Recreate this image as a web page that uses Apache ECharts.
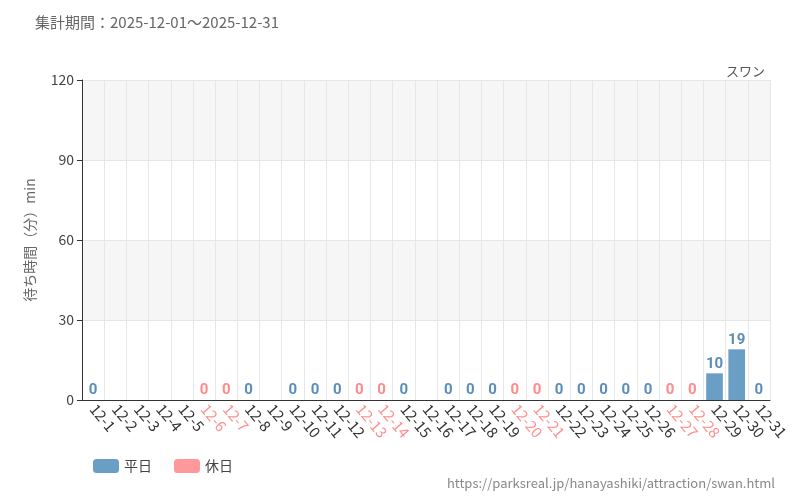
<!DOCTYPE html>
<html><head><meta charset="utf-8">
<script src="https://cdn.jsdelivr.net/npm/echarts@6/dist/echarts.min.js"></script>
<style>body{margin:0}#c{width:800px;height:500px}</style>
</head><body><div id="c"></div>
<script>
var days = ['12-1','12-2','12-3','12-4','12-5','12-6','12-7','12-8','12-9','12-10','12-11','12-12','12-13','12-14','12-15','12-16','12-17','12-18','12-19','12-20','12-21','12-22','12-23','12-24','12-25','12-26','12-27','12-28','12-29','12-30','12-31'];
var holidays = ['12-6','12-7','12-13','12-14','12-20','12-21','12-27','12-28'];
var waits = [0,null,null,null,null,0,0,0,null,0,0,0,0,0,0,null,0,0,0,0,0,0,0,0,0,0,0,0,10,19,0];
var yTicks = [0,30,60,90,120];

var weekday = waits.map(function(v,i){ return holidays.indexOf(days[i]) < 0 ? v : null; });
var holiday = waits.map(function(v,i){ return holidays.indexOf(days[i]) >= 0 ? v : null; });
var font = '"Noto Sans CJK JP","Noto Sans",sans-serif';
function lbl(color){ return {show:true, position:'top', color:color, fontSize:15, fontWeight:'bold', fontFamily:'"Liberation Sans Narrow","Roboto",sans-serif', distance:2}; }

var chart = echarts.init(document.getElementById('c'));
chart.setOption({
  textStyle:{fontFamily:font},
  title:[
    {text:'集計期間：2025-12-01～2025-12-31', left:30, top:10, textStyle:{fontSize:15, fontWeight:'normal', color:'#666'}},
    {text:'スワン', right:30, top:60, textStyle:{fontSize:13, fontWeight:'normal', color:'#555'}},
    {text:'https://parksreal.jp/hanayashiki/attraction/swan.html', right:20, top:472, textStyle:{fontSize:13, fontWeight:'normal', color:'#888'}}
  ],
  legend:{left:88, bottom:22, itemWidth:26, itemHeight:14, itemGap:22, textStyle:{fontSize:14, color:'#444'}, data:['平日','休日']},
  grid:{left:82, right:30, top:80, bottom:100},
  xAxis:{type:'category', data:days, boundaryGap:true,
    axisLine:{lineStyle:{color:'#333'}}, axisTick:{alignWithLabel:true, lineStyle:{color:'#333'}},
    splitLine:{show:true, lineStyle:{color:'#e6e6e6'}},
    axisLabel:{rotate:-50, interval:0, fontSize:15, margin:6,
      color:function(v){ return holidays.indexOf(v) >= 0 ? '#ff8f8f' : '#333'; }}},
  yAxis:{type:'value', min:yTicks[0], max:yTicks[yTicks.length-1], interval:30,
    name:'待ち時間（分）min', nameLocation:'middle', nameGap:45, nameTextStyle:{fontSize:14, color:'#666'},
    axisLine:{show:true, lineStyle:{color:'#333'}}, axisTick:{show:true},
    axisLabel:{fontSize:14, color:'#444'},
    splitLine:{lineStyle:{color:'#e6e6e6'}},
    splitArea:{show:true, areaStyle:{color:['#ffffff','#f6f6f6']}}},
  series:[
    {name:'平日', type:'bar', stack:'a', data:weekday, barWidth:'75%', itemStyle:{color:'#6a9ec5'}, label:lbl('#5b8dbb')},
    {name:'休日', type:'bar', stack:'a', data:holiday, barWidth:'75%', itemStyle:{color:'#ff9999'}, label:lbl('#ff8a8a')}
  ]
});
</script></body></html>
